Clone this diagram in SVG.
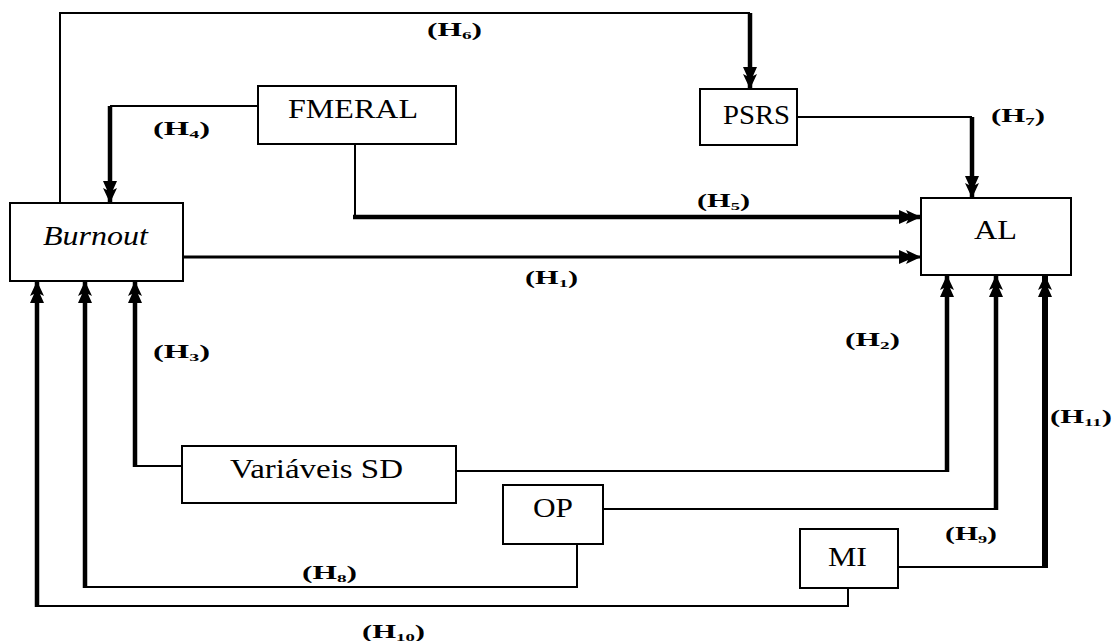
<svg xmlns="http://www.w3.org/2000/svg" width="1117" height="641" viewBox="0 0 1117 641">
  <defs>
    <style>
      .box { fill: #fff; stroke: #000; stroke-width: 2; }
      text { font-family: 'Liberation Serif', 'DejaVu Serif', serif; fill: #000; }
      .node-text { font-size: 27px; }
      .lbl { font-size: 18px; font-weight: bold; }
      .sub { font-size: 11px; }
      .thin { fill: none; stroke: #000; stroke-width: 2; }
      .mid { fill: none; stroke: #000; stroke-width: 3; }
      .thick { fill: none; stroke: #000; stroke-width: 4.5; }
      .heavy { fill: none; stroke: #000; stroke-width: 6; }
    </style>
    <marker id="arrow" viewBox="0 0 22 16" refX="22" refY="8" markerWidth="22" markerHeight="16" markerUnits="userSpaceOnUse" orient="auto">
      <path d="M0,1 L9,5 L7,1 L22,8 L7,15 L9,11 L0,15 Z" fill="#000"/>
    </marker>
  </defs>

  <!-- connectors -->
  <g id="connectors">
    <!-- H6: Burnout -> PSRS -->
    <path class="thin" d="M60,203 V13 H750"/>
    <path class="thick" d="M750,13 V89" marker-end="url(#arrow)"/>
    <!-- H4: FMERAL -> Burnout -->
    <path class="thin" d="M258,106 H110"/>
    <path class="thick" d="M110,106 V203" marker-end="url(#arrow)"/>
    <!-- H5: FMERAL -> AL -->
    <path class="thin" d="M355,144 V217"/>
    <path class="thick" d="M353,217 H921" marker-end="url(#arrow)"/>
    <!-- H1: Burnout -> AL -->
    <path class="mid" d="M183,257 H921" marker-end="url(#arrow)"/>
    <!-- H7: PSRS -> AL -->
    <path class="thin" d="M797,117 H972"/>
    <path class="thick" d="M972,117 V198" marker-end="url(#arrow)"/>
    <!-- H2: Variaveis SD -> AL -->
    <path class="thin" d="M456,471 H947"/>
    <path class="thick" d="M947,472 V275" marker-end="url(#arrow)"/>
    <!-- H9: OP -> AL -->
    <path class="thin" d="M603,509 H996"/>
    <path class="thick" d="M996,510 V275" marker-end="url(#arrow)"/>
    <!-- H11: MI -> AL -->
    <path class="thin" d="M898,567 H1045"/>
    <path class="heavy" d="M1045,568 V275" marker-end="url(#arrow)"/>
    <!-- H3: Variaveis SD -> Burnout -->
    <path class="thin" d="M182,466 H135"/>
    <path class="thick" d="M135,467 V281" marker-end="url(#arrow)"/>
    <!-- H8: OP -> Burnout -->
    <path class="thin" d="M577,544 V587 H85"/>
    <path class="thick" d="M85,588 V281" marker-end="url(#arrow)"/>
    <!-- H10: MI -> Burnout -->
    <path class="thin" d="M848,588 V606 H37"/>
    <path class="thick" d="M37,607 V281" marker-end="url(#arrow)"/>
  </g>

  <!-- nodes -->
  <g id="node-burnout">
    <rect class="box" x="10" y="203" width="173" height="78"/>
    <text class="node-text" x="43" y="245" font-style="italic" textLength="105" lengthAdjust="spacingAndGlyphs">Burnout</text>
  </g>
  <g id="node-fmeral">
    <rect class="box" x="258" y="86" width="198" height="58"/>
    <text class="node-text" x="288" y="118" textLength="130" lengthAdjust="spacingAndGlyphs">FMERAL</text>
  </g>
  <g id="node-psrs">
    <rect class="box" x="700" y="89" width="97" height="56"/>
    <text class="node-text" x="723" y="124" textLength="67" lengthAdjust="spacingAndGlyphs">PSRS</text>
  </g>
  <g id="node-al">
    <rect class="box" x="921" y="198" width="150" height="77"/>
    <text class="node-text" x="974" y="239" textLength="43" lengthAdjust="spacingAndGlyphs">AL</text>
  </g>
  <g id="node-variaveis-sd">
    <rect class="box" x="182" y="446" width="274" height="57"/>
    <text class="node-text" x="230" y="478" textLength="173" lengthAdjust="spacingAndGlyphs">Variáveis SD</text>
  </g>
  <g id="node-op">
    <rect class="box" x="503" y="485" width="100" height="59"/>
    <text class="node-text" x="533" y="517" textLength="40" lengthAdjust="spacingAndGlyphs">OP</text>
  </g>
  <g id="node-mi">
    <rect class="box" x="800" y="529" width="98" height="59"/>
    <text class="node-text" x="828" y="566" textLength="39" lengthAdjust="spacingAndGlyphs">MI</text>
  </g>

  <!-- hypothesis labels -->
  <g id="labels">
    <text class="lbl" x="427" y="36" textLength="55" lengthAdjust="spacingAndGlyphs">(H<tspan class="sub" dy="3">6</tspan><tspan dy="-3">)</tspan></text>
    <text class="lbl" x="153" y="135" textLength="57" lengthAdjust="spacingAndGlyphs">(H<tspan class="sub" dy="3">4</tspan><tspan dy="-3">)</tspan></text>
    <text class="lbl" x="697" y="207" textLength="53" lengthAdjust="spacingAndGlyphs">(H<tspan class="sub" dy="3">5</tspan><tspan dy="-3">)</tspan></text>
    <text class="lbl" x="525" y="284" textLength="53" lengthAdjust="spacingAndGlyphs">(H<tspan class="sub" dy="3">1</tspan><tspan dy="-3">)</tspan></text>
    <text class="lbl" x="991" y="122" textLength="54" lengthAdjust="spacingAndGlyphs">(H<tspan class="sub" dy="3">7</tspan><tspan dy="-3">)</tspan></text>
    <text class="lbl" x="845" y="346" textLength="55" lengthAdjust="spacingAndGlyphs">(H<tspan class="sub" dy="3">2</tspan><tspan dy="-3">)</tspan></text>
    <text class="lbl" x="153" y="358" textLength="57" lengthAdjust="spacingAndGlyphs">(H<tspan class="sub" dy="3">3</tspan><tspan dy="-3">)</tspan></text>
    <text class="lbl" x="1050" y="423" textLength="62" lengthAdjust="spacingAndGlyphs">(H<tspan class="sub" dy="3">11</tspan><tspan dy="-3">)</tspan></text>
    <text class="lbl" x="302" y="579" textLength="55" lengthAdjust="spacingAndGlyphs">(H<tspan class="sub" dy="3">8</tspan><tspan dy="-3">)</tspan></text>
    <text class="lbl" x="945" y="540" textLength="52" lengthAdjust="spacingAndGlyphs">(H<tspan class="sub" dy="3">9</tspan><tspan dy="-3">)</tspan></text>
    <text class="lbl" x="362" y="638" textLength="63" lengthAdjust="spacingAndGlyphs">(H<tspan class="sub" dy="3">10</tspan><tspan dy="-3">)</tspan></text>
  </g>
</svg>
